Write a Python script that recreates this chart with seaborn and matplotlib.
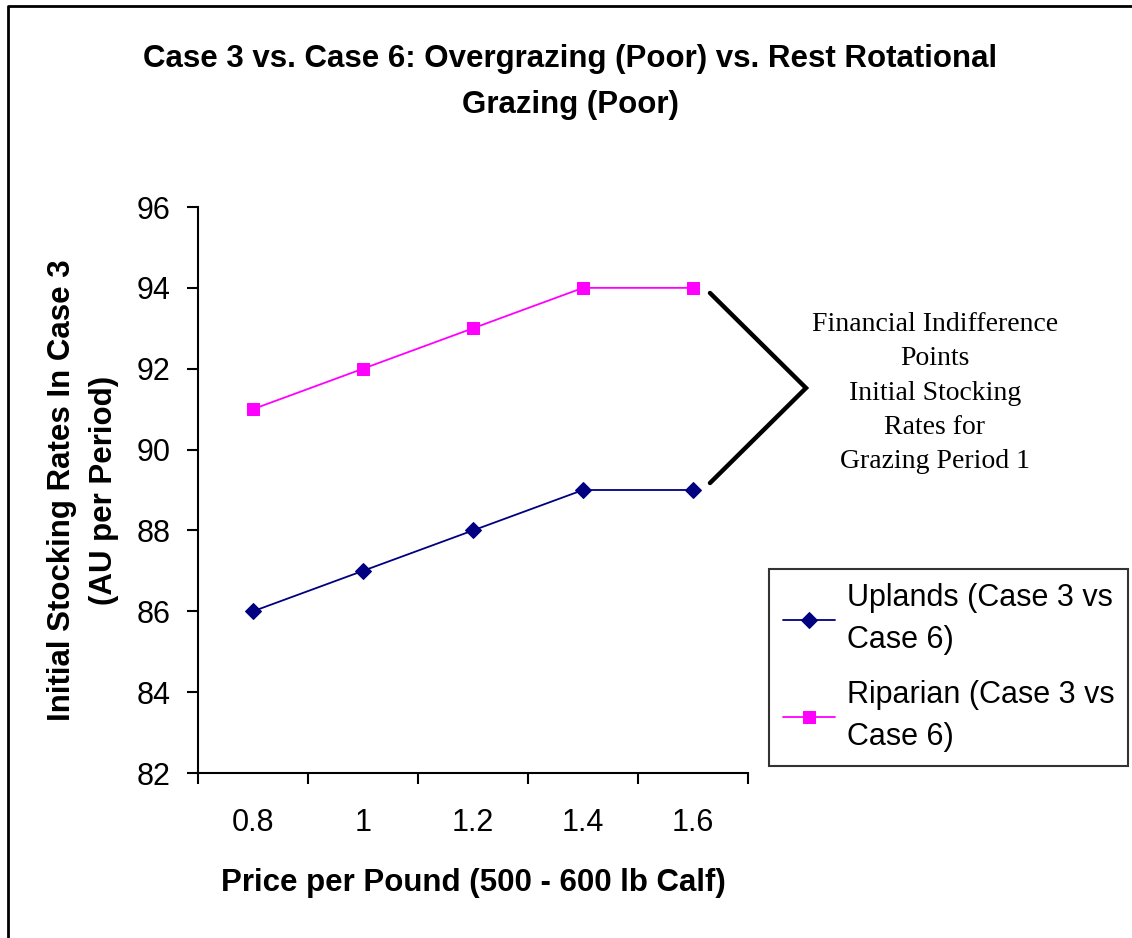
import matplotlib
matplotlib.use("Agg")
import matplotlib.pyplot as plt
import seaborn as sns
from matplotlib.lines import Line2D

prices = ["0.8", "1", "1.2", "1.4", "1.6"]
uplands = [86, 87, 88, 89, 89]
riparian = [91, 92, 93, 94, 94]
y_ticks = [82, 84, 86, 88, 90, 92, 94, 96]

W, H = 1132, 938


def fx(px):
    return px / W


def fy(py):
    return 1 - py / H


sns.set_theme(style="white")
plt.rcParams["font.family"] = ["Liberation Sans", "DejaVu Sans"]
plt.rcParams.update({"text.color": "black", "axes.labelcolor": "black",
                     "xtick.color": "black", "ytick.color": "black"})

fig = plt.figure(figsize=(W / 100, H / 100), dpi=100)
ax = fig.add_axes([fx(198), fy(773), fx(748) - fx(198), fy(207) - fy(773)])

sns.lineplot(x=prices, y=uplands, color="#000080", marker="D", markersize=8.5,
             markeredgecolor="#000080", linewidth=1.3,
             label="Uplands (Case 3 vs\nCase 6)", ax=ax)
sns.lineplot(x=prices, y=riparian, color="#FF00FF", marker="s", markersize=9,
             markeredgecolor="#FF00FF", linewidth=1.3,
             label="Riparian (Case 3 vs\nCase 6)", ax=ax)

ax.set_xlim(-0.5, len(prices) - 0.5)
ax.set_ylim(y_ticks[0], y_ticks[-1])
ax.set_yticks(y_ticks)
ax.set_xticks(range(len(prices)))
ax.set_xticklabels(prices)
ax.set_xticks([i - 0.5 for i in range(len(prices) + 1)], minor=True)
ax.tick_params(axis="x", which="major", length=0, pad=25, labelsize=22)
ax.tick_params(axis="x", which="minor", length=8, width=1.5, direction="out",
               color="black", bottom=True)
ax.tick_params(axis="y", which="major", length=8, width=1.5, direction="out",
               color="black", left=True, pad=12, labelsize=22)

for side in ["top", "right"]:
    ax.spines[side].set_visible(False)
for side in ["left", "bottom"]:
    ax.spines[side].set_color("black")
    ax.spines[side].set_linewidth(1.5)

ax.set_xlabel("Price per Pound (500 - 600 lb Calf)", fontsize=22.5,
              fontweight="bold", va="center")
ax.xaxis.set_label_coords(0.5, (773 - 883) / 566)
ax.set_ylabel("Initial Stocking Rates In Case 3\n(AU per Period)", fontsize=22.5,
              fontweight="bold", va="center", linespacing=1.55)
ax.yaxis.set_label_coords((83 - 198) / 550, 0.5)

fig.text(0.504, fy(82), "Case 3 vs. Case 6: Overgrazing (Poor) vs. Rest Rotational\nGrazing (Poor)",
         ha="center", va="center", fontsize=22.5, fontweight="bold", linespacing=1.7)

leg = ax.legend(loc="upper left", bbox_to_anchor=(fx(769), fy(569)),
                bbox_transform=fig.transFigure, fontsize=22, frameon=True,
                fancybox=False, edgecolor="black", borderaxespad=0,
                handlelength=1.7, handletextpad=0.4, borderpad=0.45,
                labelspacing=0.8)
leg.get_frame().set_linewidth(1.5)
for t in leg.get_texts():
    t.set_linespacing(1.55)

# bracket pointing to the indifference points
fig.add_artist(Line2D([fx(710), fx(806), fx(710)], [fy(293), fy(388), fy(483)],
                      color="black", linewidth=3.2, solid_joinstyle="miter"))
fig.text(fx(935), fy(393),
         "Financial Indifference\nPoints\nInitial Stocking\nRates for\nGrazing Period 1",
         ha="center", va="center", fontsize=20, family=["Liberation Serif"],
         linespacing=1.48)

# outer chart border
fig.add_artist(Line2D([fx(8), fx(8), 1], [0, fy(6), fy(6)], color="black",
                      linewidth=2))

fig.savefig("out.png", dpi=100)
